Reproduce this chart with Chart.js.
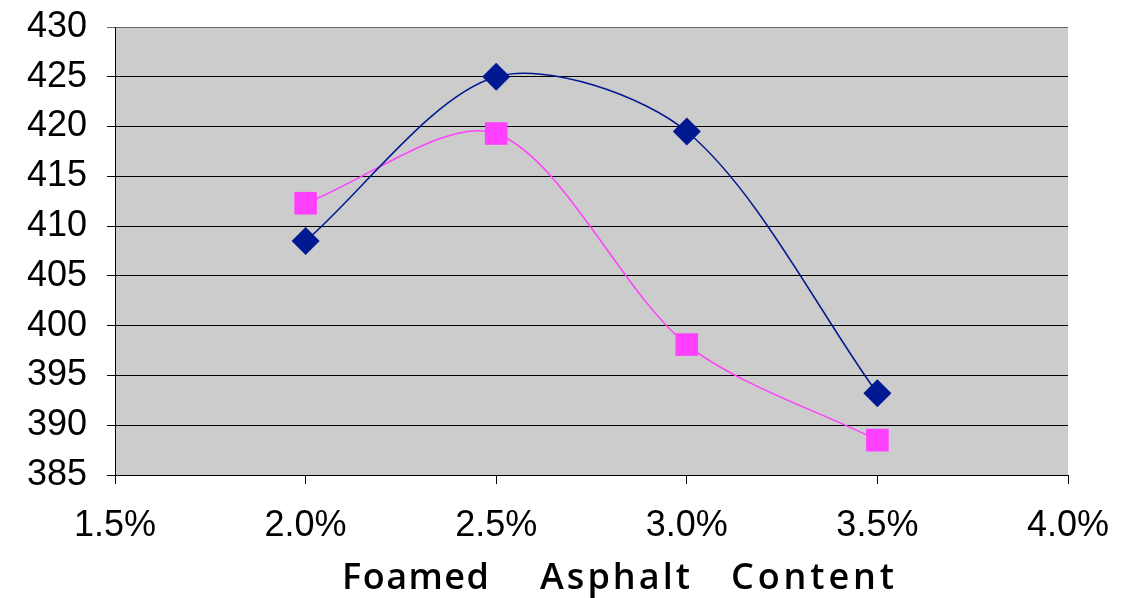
<!DOCTYPE html>
<html>
<head>
<meta charset="utf-8">
<script src="https://cdn.jsdelivr.net/npm/chart.js@4"></script>
<style>
  html, body { margin: 0; padding: 0; background: #fff; }
  #wrap { width: 1127px; height: 598px; }
</style>
</head>
<body>
<div id="wrap"><canvas id="myChart" width="1127" height="598"></canvas></div>
<script>
// Asphalt contents (x) and the two measured series
const contents = [0.02, 0.025, 0.03, 0.035];
const seriesA = [408.5, 425.0, 419.5, 393.2];
const seriesB = [412.3, 419.3, 398.1, 388.5];
const yTicks = [385, 390, 395, 400, 405, 410, 415, 420, 425, 430];
const xTitleWords = ["Foamed", "Asphalt", "Content"];

function toPoints(xs, ys) {
  return xs.map((x, i) => ({ x: x, y: ys[i] }));
}

// draws the spaced-out x axis title, each word stretched to its span
const xTitlePlugin = {
  id: "xTitle",
  afterDraw(chart) {
    const ctx = chart.ctx;
    const spans = [[342, 489], [540, 690], [731, 894]];
    ctx.save();
    ctx.font = "600 36px 'Open Sans', 'DejaVu Sans Condensed', sans-serif";
    ctx.fillStyle = "#000";
    ctx.textBaseline = "alphabetic";
    xTitleWords.forEach((w, i) => {
      const [x0, x1] = spans[i];
      ctx.letterSpacing = "0px";
      const natural = ctx.measureText(w).width;
      const ls = Math.max(0, (x1 - x0 - natural) / (w.length - 1));
      ctx.letterSpacing = ls.toFixed(2) + "px";
      ctx.fillText(w, x0, 589);
    });
    ctx.restore();
  },
};

const ctx = document.getElementById("myChart").getContext("2d");
new Chart(ctx, {
  type: "scatter",
  data: {
    datasets: [
      {
        label: "A",
        data: toPoints(contents, seriesA),
        showLine: true,
        tension: 0.3,
        borderColor: "#001890",
        borderWidth: 1.5,
        backgroundColor: "#001890",
        pointStyle: "rectRot",
        pointRadius: 14,
        pointHoverRadius: 14,
        pointBorderWidth: 0,
      },
      {
        label: "B",
        data: toPoints(contents, seriesB),
        showLine: true,
        tension: 0.3,
        borderColor: "#FF40FF",
        borderWidth: 1.5,
        backgroundColor: "#FF40FF",
        pointStyle: "rect",
        pointRadius: 16,
        pointHoverRadius: 16,
        pointBorderWidth: 0,
      },
    ],
  },
  options: {
    responsive: false,
    animation: false,
    layout: { padding: { top: 27, right: 59, left: 0, bottom: 0 } },
    plugins: {
      legend: { display: false },
      tooltip: { enabled: false },
    },
    scales: {
      x: {
        type: "linear",
        min: 0.015,
        max: 0.04,
        afterBuildTicks(scale) {
          scale.ticks = [0.015, 0.02, 0.025, 0.03, 0.035, 0.04].map((v) => ({ value: v }));
        },
        afterFit(scale) {
          scale.height = 123;
          scale.paddingLeft = 0;
          scale.paddingRight = 0;
        },
        ticks: {
          color: "#000",
          padding: 20,
          font: { family: "'Liberation Sans', Arial, sans-serif", size: 36 },
          callback: (v) => (v * 100).toFixed(1) + "%",
        },
        grid: {
          drawOnChartArea: false,
          color: "#000",
          tickLength: 9,
          lineWidth: 1,
        },
        border: { color: "#000", width: 1 },
      },
      y: {
        min: 385,
        max: 430,
        afterBuildTicks(scale) {
          scale.ticks = yTicks.map((v) => ({ value: v }));
        },
        afterFit(scale) {
          scale.width = 115;
          scale.paddingTop = 0;
          scale.paddingBottom = 0;
        },
        ticks: {
          color: "#000",
          padding: 20,
          font: { family: "'Liberation Sans', Arial, sans-serif", size: 36 },
        },
        grid: {
          color: (c) => (c.tick && c.tick.value === 430 ? "#666" : "#000"),
          tickLength: 8,
          lineWidth: 1,
        },
        border: { color: "#000", width: 1 },
      },
    },
  },
  plugins: [
    xTitlePlugin,
    {
      id: "plotBg",
      beforeDraw(chart) {
        const a = chart.chartArea;
        chart.ctx.save();
        chart.ctx.fillStyle = "#CCCCCC";
        chart.ctx.fillRect(a.left, a.top, a.right - a.left, a.bottom - a.top);
        chart.ctx.restore();
      },
    },
  ],
});
</script>
</body>
</html>
